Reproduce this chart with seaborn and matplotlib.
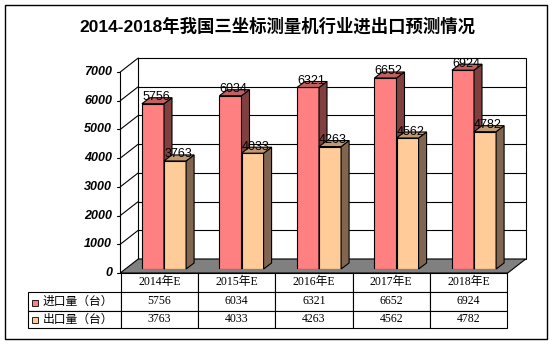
import matplotlib
matplotlib.use('Agg')
import numpy as np
import pandas as pd
import matplotlib.pyplot as plt
import seaborn as sns
from matplotlib.patches import Polygon, Rectangle
from matplotlib.table import Table

# ---------------- data ----------------
title = '2014-2018年我国三坐标测量机行业进出口预测情况'
years = ['2014年E', '2015年E', '2016年E', '2017年E', '2018年E']
series = ['进口量（台）', '出口量（台）']
imports = [5756, 6034, 6321, 6652, 6924]
exports = [3763, 4033, 4263, 4562, 4782]
yticks = [0, 1000, 2000, 3000, 4000, 5000, 6000, 7000]

# ---------------- style ----------------
front_cols = ['#FF8080', '#FFCC99']
side_cols = ['#804040', '#806650']
top_cols = ['#C06060', '#C09970']

sns.set_style('white')
plt.rcParams['font.family'] = ['Liberation Sans', 'Noto Sans CJK SC']
plt.rcParams['text.color'] = 'black'
CJK = ['Liberation Sans', 'Noto Sans CJK SC']
SERIF = ['Liberation Serif', 'Noto Sans CJK SC']

W, H = 553, 345
fig = plt.figure(figsize=(W / 100, H / 100), dpi=100)
fig.patch.set_facecolor('white')

AX_L, AX_B, AX_W, AX_H = 125.25, 76, 387.5, 201
ax = fig.add_axes([AX_L / W, AX_B / H, AX_W / W, AX_H / H])

df = pd.DataFrame({
    'year': years * 2,
    'value': imports + exports,
    'series': [series[0]] * len(years) + [series[1]] * len(years),
})
sns.barplot(data=df, x='year', y='value', hue='series', hue_order=series,
            order=years, palette=front_cols, saturation=1, width=0.57,
            edgecolor='black', linewidth=0.8, legend=False, errorbar=None, ax=ax)
x0, x1 = -0.5, len(years) - 0.5
ymax = yticks[-1]
ax.set_xlim(x0, x1)
ax.set_ylim(0, ymax)
ax.axis('off')

ux = (x1 - x0) / AX_W
uy = ymax / AX_H


def P(x, y, px=0.0, py=0.0):
    return (x + px * ux, y + py * uy)


FX, FY = -5, -4   # front plane offset (px)
BX, BY = 13, 10   # back wall offset (px)

# back wall
ax.add_patch(Polygon([P(x0, 0, BX, BY), P(x1, 0, BX, BY), P(x1, ymax, BX, BY), P(x0, ymax, BX, BY)],
                     closed=True, fc='white', ec='black', lw=0.8, zorder=0.5, clip_on=False))
for v in yticks[1:-1]:
    a, b = P(x0, v, BX, BY), P(x1, v, BX, BY)
    ax.plot([a[0], b[0]], [a[1], b[1]], color='black', lw=0.8, zorder=0.6, clip_on=False)
# left wall diagonals, front axis, ticks
for v in yticks[1:]:
    a, b = P(x0, v, FX, FY), P(x0, v, BX, BY)
    ax.plot([a[0], b[0]], [a[1], b[1]], color='black', lw=0.8, zorder=0.6, clip_on=False)
for v in yticks:
    a, b = P(x0, v, FX - 3, FY), P(x0, v, FX, FY)
    ax.plot([a[0], b[0]], [a[1], b[1]], color='black', lw=0.8, zorder=0.6, clip_on=False)
a, b = P(x0, 0, FX, FY), P(x0, ymax, FX, FY)
ax.plot([a[0], b[0]], [a[1], b[1]], color='black', lw=0.8, zorder=0.6, clip_on=False)
# floor
ax.add_patch(Polygon([P(x0, 0, FX, FY), P(x1, 0, FX, FY), P(x1, 0, BX, BY), P(x0, 0, BX, BY)],
                     closed=True, fc='#808080', ec='black', lw=0.8, zorder=0.7, clip_on=False))

# y labels on front plane
for v in yticks:
    ax.text(*P(x0, v, -13, FY), str(v), ha='right', va='center', fontsize=9,
            fontweight='bold', fontstyle='italic', color='black', family=CJK)

# 3D bar faces
dx, dy = 8 * ux, 6 * uy
bars = [p for p in list(ax.patches) if isinstance(p, Rectangle)]
for p in bars:
    fc = p.get_facecolor()
    k = 0 if np.allclose(fc[:3], matplotlib.colors.to_rgb(front_cols[0]), atol=0.02) else 1
    x, w, h = p.get_x(), p.get_width(), p.get_height()
    p.set_zorder(2 + 0.2 * k)
    ax.add_patch(Polygon([(x + w, 0), (x + w, h), (x + w + dx, h + dy), (x + w + dx, dy)],
                         closed=True, fc=side_cols[k], ec='black', lw=0.8, zorder=2.1 + 0.2 * k, clip_on=False))
    ax.add_patch(Polygon([(x, h), (x + w, h), (x + w + dx, h + dy), (x + dx, h + dy)],
                         closed=True, fc=top_cols[k], ec='black', lw=0.8, zorder=2.1 + 0.2 * k, clip_on=False))
    ax.annotate(f'{int(round(h))}', xy=(x + w / 2, h), xytext=(3 * 0.72, 6.5 * 0.72),
                textcoords='offset points', ha='center', va='center', fontsize=9,
                color='black', zorder=5, annotation_clip=False)

# data table
T_L, T_R, T_TOP, T_BOT = 28, 507, 345 - 273, 345 - 328
tb = Table(ax, bbox=[(T_L - AX_L) / AX_W, (T_BOT - AX_B) / AX_H,
                     (T_R - T_L) / AX_W, (T_TOP - T_BOT) / AX_H])
col_w = [93] + [77.2] * len(years)
row_h = [19, 19, 17]
rows = [[''] + years,
        [series[0]] + [str(v) for v in imports],
        [series[1]] + [str(v) for v in exports]]
for r, row in enumerate(rows):
    for c, txt in enumerate(row):
        loc = 'left' if c == 0 else 'center'
        cell = tb.add_cell(r, c, width=col_w[c], height=row_h[r], text=txt, loc=loc,
                           facecolor='white', edgecolor='black')
        cell.set_linewidth(0.8)
        cell.get_text().set_color('black')
        if c == 0:
            cell.PAD = 0.16
            cell.get_text().set_fontfamily(CJK)
        else:
            cell.get_text().set_fontfamily(SERIF)
        if r == 0 and c == 0:
            cell.visible_edges = 'open'
tb.auto_set_font_size(False)
tb.set_fontsize(8.5)
ax.add_table(tb)

# legend keys in table
for k, ytop in enumerate([299.5, 317]):
    fig.patches.append(Rectangle((32 / W, (H - ytop - 6) / H), 6 / W, 6 / H,
                                 transform=fig.transFigure, fc=front_cols[k], ec='black', lw=0.6))

# outer border
fig.patches.append(Rectangle((5 / W, 6 / H), 542 / W, 334 / H, transform=fig.transFigure,
                             fill=False, ec='black', lw=1))

fig.text(277 / W, 1 - 26 / H, title, ha='center', va='center', fontsize=12.5,
         fontweight='bold', family=CJK, color='black')

fig.savefig('out.png', dpi=100)
